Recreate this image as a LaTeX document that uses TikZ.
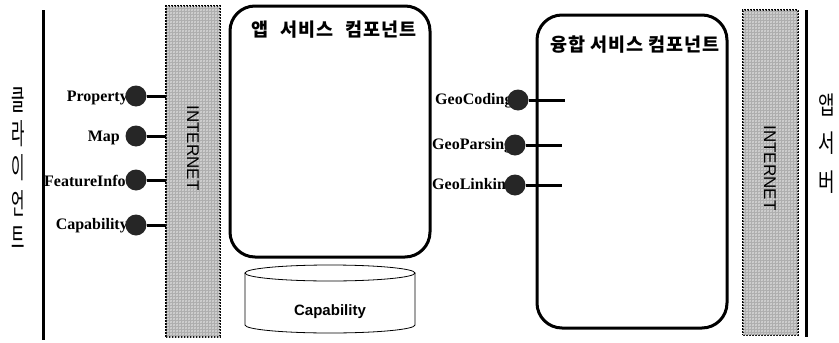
\documentclass[tikz,border=0pt]{standalone}
\usepackage{fontspec}
\usepackage{graphicx}
\setmainfont{Liberation Serif}
\setsansfont{Liberation Sans}
\newfontfamily\kr{Noto Sans CJK KR}
\usetikzlibrary{patterns}
\tikzset{
  band/.style={draw=black, line width=2pt, dash pattern=on 1.6pt off 1.4pt,
    fill=gray!68, postaction={pattern=crosshatch, pattern color=gray!30},
    inner sep=0pt},
  nettext/.style={font=\sffamily\fontsize{17}{17}\selectfont, rotate=-90, inner sep=0pt},
  comp/.style={draw=black, line width=3pt, rounded corners=25pt, inner sep=0pt},
  ctitle/.style={font=\kr\bfseries\fontsize{18.5}{18.5}\selectfont\addfontfeature{LetterSpace=6}, inner sep=0pt},
  port/.style={circle, fill=black!85, inner sep=0pt, minimum size=21pt},
  plabel/.style={font=\bfseries\fontsize{16}{16}\selectfont, inner sep=0pt},
  stem/.style={line width=3pt},
  side/.style={line width=3pt},
  krside/.style={font=\kr\fontsize{29}{29}\selectfont, inner sep=0pt},
  krsideb/.style={font=\kr\fontsize{25}{25}\selectfont, inner sep=0pt},
}
\newcommand{\nar}[1]{\scalebox{0.5}[1]{#1}}
\newcommand{\narb}[1]{\scalebox{0.72}[1]{#1}}
\begin{document}
\begin{tikzpicture}[x=1pt,y=-1pt]
\useasboundingbox (0,0) rectangle (839,343);

% left side
\coordinate (lt) at (43,10);
\coordinate (lb) at (43,340);
\draw[side] (lt) -- (lb);
\node[krside] (k1) at (18,100) {\nar{클}};
\node[krside] (k2) at (18,134) {\nar{라}};
\node[krside] (k3) at (18,168) {\nar{이}};
\node[krside] (k4) at (18,203) {\nar{언}};
\node[krside] (k5) at (18,238) {\nar{트}};

% left internet band
\node[band, minimum width=54pt, minimum height=331pt] (lnet) at (193,171.5) {};
\node[nettext] (lnett) at (193,148) {INTERNET};

% left ports
\node[plabel, anchor=east] (lp1) at (128,98) {Property};
\node[plabel, anchor=east] (lp2) at (120,138) {Map};
\node[plabel, anchor=west] (lp3) at (44,181) {FeatureInfo};
\node[plabel, anchor=east] (lp4) at (128,226) {Capability};
\node[port] (c1) at (136,96) {};
\node[port] (c2) at (136,136) {};
\node[port] (c3) at (136,180) {};
\node[port] (c4) at (136,225) {};
\coordinate (e1) at (166,96);
\coordinate (e2) at (166,136);
\coordinate (e3) at (166,180);
\coordinate (e4) at (166,225);
\draw[stem] (c1.east) -- (e1);
\draw[stem] (c2.east) -- (e2);
\draw[stem] (c3.east) -- (e3);
\draw[stem] (c4.east) -- (e4);

% app service component
\node[comp, minimum width=200pt, minimum height=251pt] (app) at (330,131.5) {};
\node[ctitle] (appt) at (334,30) {앱\hspace{12pt}서비스\hspace{12pt}컴포넌트};

% capability cylinder
\draw[line width=0.8pt, fill=white] (245,273) -- (245,325)
  arc[start angle=180, end angle=360, x radius=85pt, y radius=8pt]
  -- (415,273);
\draw[line width=0.8pt, fill=white] (330,273) ellipse[x radius=85pt, y radius=8pt];
\node[font=\sffamily\bfseries\fontsize{15}{15}\selectfont, inner sep=0pt] (capdb) at (330,312) {Capability};

% fusion service component
\node[comp, minimum width=190pt, minimum height=313pt] (fus) at (632,171.5) {};
\node[ctitle] (fust) at (635,45) {융합\hspace{5pt}서비스\hspace{5pt}컴포넌트};

% right ports
\node[plabel, anchor=west] (rp1) at (435,101) {GeoCoding};
\node[plabel, anchor=west] (rp2) at (432,146) {GeoParsing};
\node[plabel, anchor=west] (rp3) at (432,186) {GeoLinking};
\node[port] (g1) at (518,100) {};
\node[port] (g2) at (515,145) {};
\node[port] (g3) at (515,185) {};
\coordinate (f1) at (565,100);
\coordinate (f2) at (562,145);
\coordinate (f3) at (562,185);
\draw[stem] (g1.east) -- (f1);
\draw[stem] (g2.east) -- (f2);
\draw[stem] (g3.east) -- (f3);

% right internet band
\node[band, minimum width=55pt, minimum height=325pt] (rnet) at (770.5,172.5) {};
\node[nettext] (rnett) at (770,168) {INTERNET};

% right side
\coordinate (rt) at (806,10);
\coordinate (rb) at (806,337);
\draw[side] (rt) -- (rb);
\node[krsideb] (s1) at (827,105) {\narb{앱}};
\node[krsideb] (s2) at (827,143) {\narb{서}};
\node[krsideb] (s3) at (827,182) {\narb{버}};
\end{tikzpicture}
\end{document}
